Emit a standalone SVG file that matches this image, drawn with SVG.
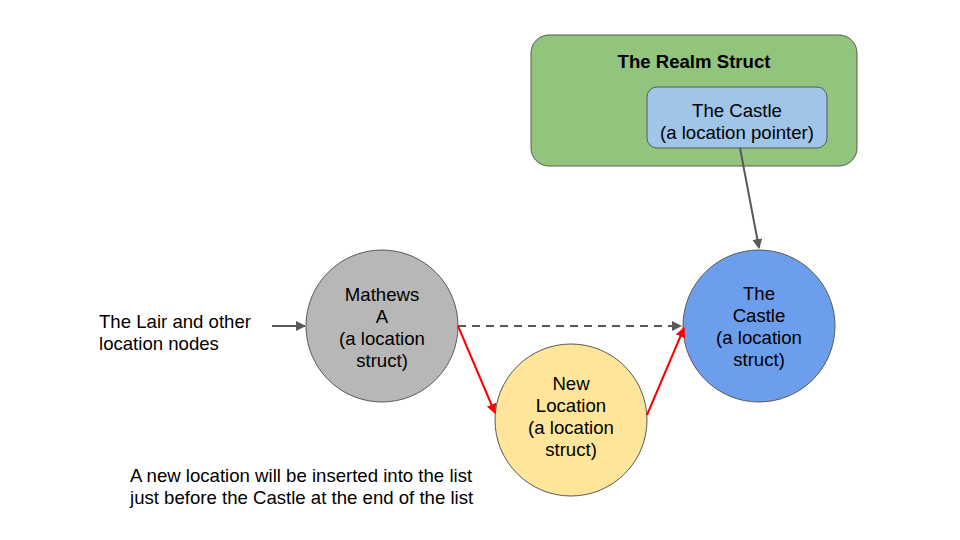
<svg xmlns="http://www.w3.org/2000/svg" width="960" height="540" viewBox="0 0 960 540">
<style>
text{font-family:"Liberation Sans",Arial,sans-serif;font-size:18.6px;fill:#000}
.c{text-anchor:middle}
.n{stroke:#595959;stroke-width:1}
.g{stroke:#595959;stroke-width:2;fill:none}
.r{stroke:#ff0000;stroke-width:2;fill:none}
</style>
<defs>
<marker id="ag" viewBox="0 0 10 10" refX="9" refY="5" markerWidth="5" markerHeight="5" orient="auto" markerUnits="strokeWidth"><path d="M0,0L10,5L0,10z" fill="#595959"/></marker>
<marker id="ar" viewBox="0 0 10 10" refX="9" refY="5" markerWidth="5" markerHeight="5" orient="auto" markerUnits="strokeWidth"><path d="M0,0L10,5L0,10z" fill="#ff0000"/></marker>
</defs>
<rect width="960" height="540" fill="#fff"/>
<g id="realm">
<rect class="n" x="531" y="35" width="326" height="131" rx="18" fill="#93c47d"/>
<text class="c" x="694" y="68" style="font-weight:bold">The Realm Struct</text>
</g>
<g id="pointer">
<rect class="n" x="647" y="87" width="180" height="61" rx="10" fill="#9fc5e8"/>
<text class="c" x="737" y="117">The Castle</text>
<text class="c" x="737" y="139">(a location pointer)</text>
</g>
<g id="lair">
<text x="99" y="328">The Lair and other</text>
<text x="99" y="350">location nodes</text>
</g>
<g id="mathews">
<circle class="n" cx="382" cy="326" r="76" fill="#b7b7b7"/>
<text class="c" x="382" y="301">Mathews</text>
<text class="c" x="382" y="323">A</text>
<text class="c" x="382" y="345">(a location</text>
<text class="c" x="382" y="367">struct)</text>
</g>
<g id="newloc">
<circle class="n" cx="571" cy="420" r="76" fill="#ffe599"/>
<text class="c" x="571" y="390">New</text>
<text class="c" x="571" y="412">Location</text>
<text class="c" x="571" y="434">(a location</text>
<text class="c" x="571" y="456">struct)</text>
</g>
<g id="castle">
<circle class="n" cx="759" cy="326" r="76" fill="#6d9eeb"/>
<text class="c" x="759" y="300">The</text>
<text class="c" x="759" y="322">Castle</text>
<text class="c" x="759" y="344">(a location</text>
<text class="c" x="759" y="366">struct)</text>
</g>
<g id="note">
<text x="130" y="482">A new location will be inserted into the list</text>
<text x="130" y="504">just before the Castle at the end of the list</text>
</g>
<g id="connectors">
<line class="g" x1="272" y1="326" x2="305" y2="326" marker-end="url(#ag)"/>
<line class="g" x1="740" y1="148" x2="759" y2="248" marker-end="url(#ag)"/>
<line class="g" x1="458" y1="326" x2="681" y2="326" stroke-dasharray="8,6" marker-end="url(#ag)"/>
<line class="r" x1="458" y1="326" x2="495" y2="413" marker-end="url(#ar)"/>
<line class="r" x1="647" y1="415" x2="684" y2="328" marker-end="url(#ar)"/>
</g>
</svg>
